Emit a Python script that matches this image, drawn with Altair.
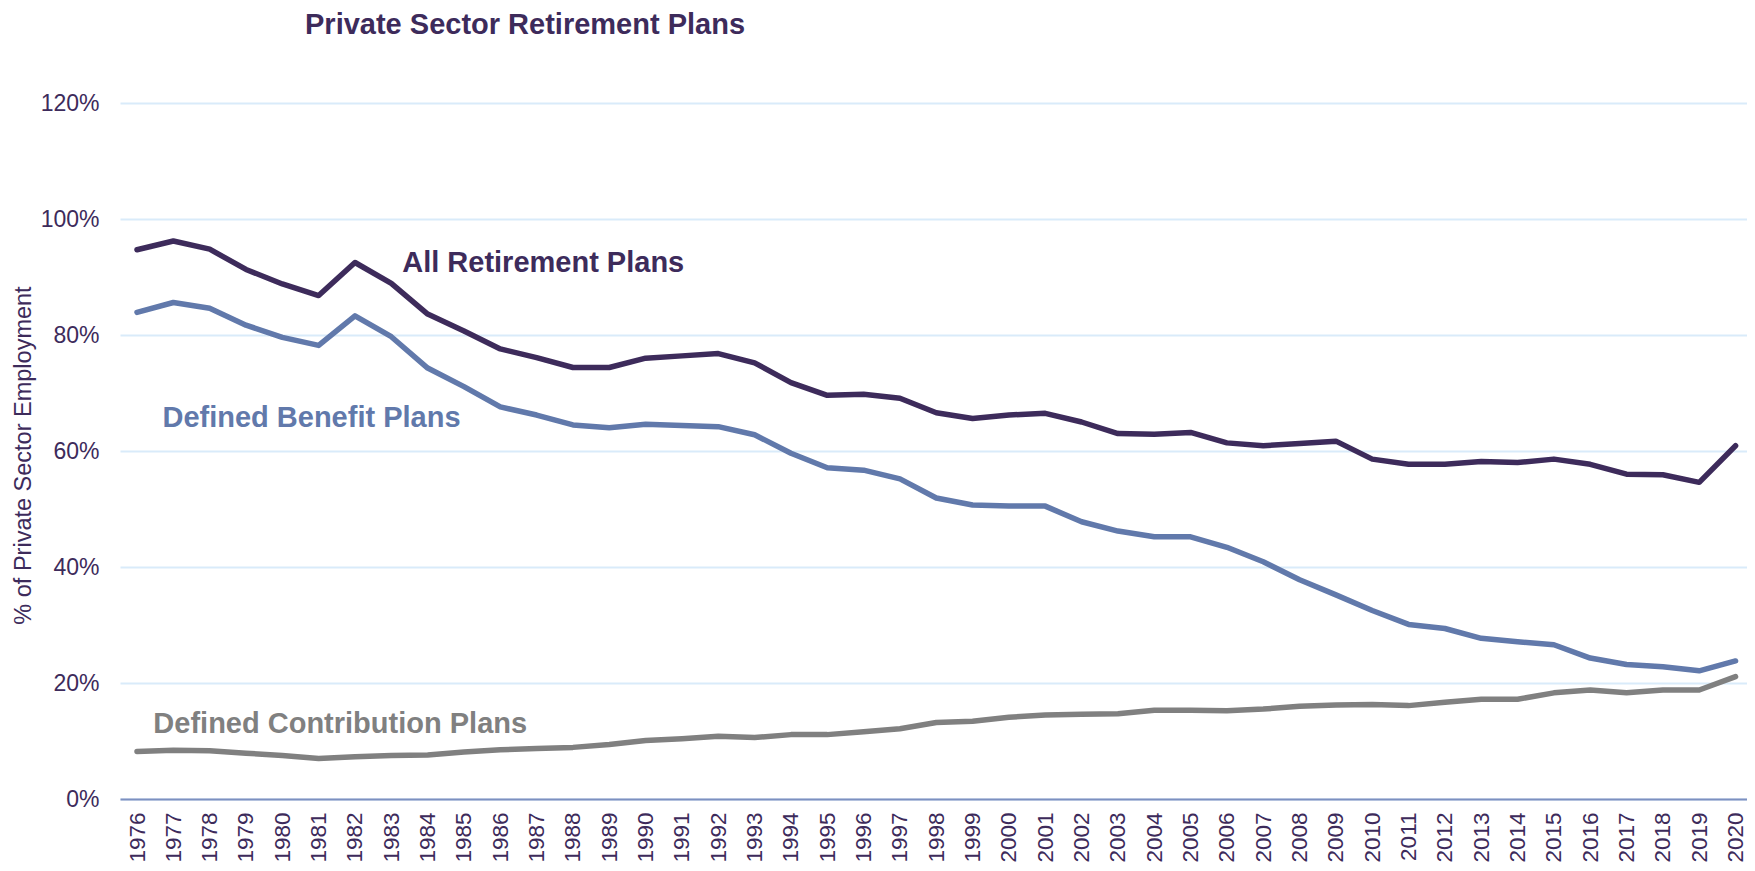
import altair as alt
import pandas as pd

years = list(range(1976, 2021))
all_plans = [94.7, 96.2, 94.8, 91.3, 88.8, 86.8, 92.5, 88.9, 83.6, 80.7,
             77.6, 76.1, 74.4, 74.4, 76.0, 76.4, 76.8, 75.2, 71.8, 69.6,
             69.8, 69.1, 66.6, 65.6, 66.2, 66.5, 65.0, 63.0, 62.9, 63.2,
             61.4, 60.9, 61.3, 61.7, 58.6, 57.7, 57.7, 58.2, 58.0, 58.6,
             57.7, 56.0, 55.9, 54.6, 60.9]
db_plans = [83.9, 85.6, 84.6, 81.7, 79.6, 78.2, 83.3, 79.7, 74.3, 71.1,
            67.6, 66.2, 64.5, 64.0, 64.6, 64.4, 64.2, 62.8, 59.6, 57.1,
            56.7, 55.2, 51.9, 50.7, 50.5, 50.5, 47.8, 46.2, 45.2, 45.2,
            43.4, 40.9, 37.8, 35.2, 32.5, 30.1, 29.4, 27.7, 27.1, 26.6,
            24.3, 23.2, 22.8, 22.1, 23.8]
dc_plans = [8.2, 8.4, 8.3, 7.9, 7.5, 7.0, 7.3, 7.5, 7.6, 8.1,
            8.5, 8.7, 8.9, 9.4, 10.1, 10.4, 10.8, 10.6, 11.1, 11.1,
            11.6, 12.1, 13.2, 13.4, 14.1, 14.5, 14.6, 14.7, 15.3, 15.3,
            15.2, 15.5, 16.0, 16.2, 16.3, 16.1, 16.7, 17.2, 17.2, 18.3,
            18.8, 18.3, 18.8, 18.8, 21.1]

series_names = ["All Retirement Plans", "Defined Benefit Plans", "Defined Contribution Plans"]
series_colors = ["#3d2b5b", "#6179ab", "#808080"]
y_ticks = [0, 20, 40, 60, 80, 100, 120]
label_years = [1983.3, 1976.7, 1976.45]
label_values = [90.9, 64.1, 11.4]

rows = []
for name, vals in zip(series_names, [all_plans, db_plans, dc_plans]):
    for yr, v in zip(years, vals):
        rows.append({"year": yr, "value": v, "series": name})
df = pd.DataFrame(rows)
labels_df = pd.DataFrame({"year": label_years, "value": label_values, "series": series_names})

FONT = "Liberation Sans"
TXT = "#3d2b5b"
W, H = 1627, 696

x_scale = alt.Scale(domain=[1975.532, 2020.315], nice=False, zero=False)
y_scale = alt.Scale(domain=[0, 120], nice=False, zero=True)
color_scale = alt.Scale(domain=series_names, range=series_colors)

x_enc = alt.X("year:Q", scale=x_scale, axis=alt.Axis(
    values=years, format="d", labelAngle=270, ticks=False, grid=False,
    domain=True, domainColor="#7d90c0", domainWidth=2,
    labelFontSize=22.5, labelColor=TXT, labelFont=FONT, labelPadding=13,
    labelOverlap=False, labelBound=False, labelFlush=False, title=None))
y_enc = alt.Y("value:Q", scale=y_scale, axis=alt.Axis(
    values=y_ticks, labelExpr="datum.value + '%'", ticks=False, domain=False,
    grid=True, gridColor="#d9ebfa", gridWidth=2,
    labelFontSize=23, labelColor=TXT, labelFont=FONT, labelPadding=21,
    title="% of Private Sector Employment", titleFontSize=23.5,
    titleFontWeight="normal", titleColor=TXT, titleFont=FONT,
    titleAngle=270, titleX=-90, titleY=352, titleAlign="center",
    titleBaseline="alphabetic"))
c_enc = alt.Color("series:N", scale=color_scale, legend=None)

lines = alt.Chart(df).mark_line(strokeWidth=5.5, strokeCap="round", strokeJoin="round").encode(
    x=x_enc, y=y_enc, color=c_enc,
)

texts = alt.Chart(labels_df).mark_text(
    fontSize=29, fontWeight="bold", font=FONT, align="left", baseline="alphabetic"
).encode(
    x=x_enc, y=y_enc, text="series:N", color=c_enc,
)

chart = alt.layer(lines, texts).properties(
    width=W,
    height=H,
    title=alt.TitleParams(
        text="Private Sector Retirement Plans", anchor="start", frame="group",
        dx=185, offset=29, baseline="alphabetic", fontSize=29, font=FONT,
        fontWeight="bold", color=TXT),
    padding={"left": 112, "top": 95, "right": 0, "bottom": 64},
    autosize=alt.AutoSizeParams(type="none"),
).configure_view(stroke=None)

chart.save("out.html", embed_options={"renderer": "svg", "actions": False})
